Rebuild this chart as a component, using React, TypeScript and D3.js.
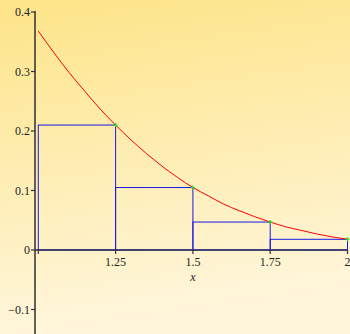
import React, { useEffect, useRef } from 'react';
import * as d3 from 'd3';

// curve (x, y)
const curveX = [1, 1.05, 1.1, 1.15, 1.2, 1.25, 1.3, 1.35, 1.4, 1.45, 1.5, 1.55, 1.6, 1.65, 1.7, 1.75, 1.8, 1.85, 1.9, 1.95, 2];
const curveY = [0.368, 0.332, 0.298, 0.267, 0.237, 0.21, 0.185, 0.162, 0.141, 0.122, 0.105, 0.091, 0.077, 0.066, 0.056, 0.047, 0.039, 0.033, 0.027, 0.022, 0.018];

// right endpoint rectangles
const rectLeft = [1, 1.25, 1.5, 1.75];
const rectRight = [1.25, 1.5, 1.75, 2];
const rectHeight = [0.21, 0.105, 0.047, 0.018];

const xTicks = [1, 1.25, 1.5, 1.75, 2];
const xTickLabels = ['', '1.25', '1.5', '1.75', '2'];
const yTicks = [-0.1, 0, 0.1, 0.2, 0.3, 0.4];
const yTickLabels = ['\u22120.1', '0', '0.1', '0.2', '0.3', '0.4'];

const W = 350, H = 334;
const FONT = "'Liberation Serif', 'Times New Roman', serif";

const App = () => {
  const ref = useRef<SVGSVGElement>(null);

  useEffect(() => {
    const svg = d3.select(ref.current);
    svg.selectAll('*').remove();

    const x = d3.scaleLinear().domain([1, 2]).range([38.3, 347.5]);
    const y = d3.scaleLinear().domain([0, 0.4]).range([250, 12]);
    const axisX = 35;

    const defs = svg.append('defs');
    const grad = defs.append('linearGradient').attr('id', 'bg')
      .attr('x1', 0).attr('y1', 0).attr('x2', 0.15).attr('y2', 1);
    grad.append('stop').attr('offset', '0%').attr('stop-color', '#fde488');
    grad.append('stop').attr('offset', '55%').attr('stop-color', '#feeeb6');
    grad.append('stop').attr('offset', '100%').attr('stop-color', '#fff6dc');

    svg.append('rect').attr('width', W).attr('height', H).attr('fill', 'url(#bg)');

    // rectangles
    rectLeft.forEach((l, i) => {
      svg.append('rect')
        .attr('x', x(l)).attr('y', y(rectHeight[i]))
        .attr('width', x(rectRight[i]) - x(l))
        .attr('height', y(0) - y(rectHeight[i]))
        .attr('fill', 'none')
        .attr('stroke', '#1a1ae6')
        .attr('stroke-width', 1);
    });

    // curve
    const line = d3.line<number>()
      .x((d, i) => x(curveX[i]))
      .y(d => y(d))
      .curve(d3.curveMonotoneX);
    svg.append('path').datum(curveY)
      .attr('d', line)
      .attr('fill', 'none')
      .attr('stroke', '#ff0000')
      .attr('stroke-width', 1);

    // sample points
    rectRight.forEach((r, i) => {
      const g = svg.append('g').attr('transform', `translate(${x(r)},${y(rectHeight[i])})`);
      g.append('path').attr('d', 'M-2,0H2M0,-2V2').attr('stroke', '#22dd22').attr('stroke-width', 1.2);
    });

    // x axis
    svg.append('line')
      .attr('x1', axisX).attr('x2', x(2)).attr('y1', y(0)).attr('y2', y(0))
      .attr('stroke', '#2a2a50').attr('stroke-width', 1.6);
    xTicks.forEach((t, i) => {
      svg.append('line')
        .attr('x1', x(t)).attr('x2', x(t)).attr('y1', y(0)).attr('y2', y(0) + 4)
        .attr('stroke', '#333').attr('stroke-width', 1.2);
      svg.append('text')
        .attr('x', x(t)).attr('y', y(0) + 16)
        .attr('text-anchor', 'middle')
        .attr('font-family', FONT)
        .attr('font-size', 12)
        .attr('fill', '#222')
        .text(xTickLabels[i]);
    });
    svg.append('text')
      .attr('x', x(1.5)).attr('y', y(0) + 31)
      .attr('text-anchor', 'middle')
      .attr('font-family', FONT)
      .attr('font-style', 'italic')
      .attr('font-size', 12)
      .attr('fill', '#222')
      .text('x');

    // y axis
    svg.append('line')
      .attr('x1', axisX).attr('x2', axisX).attr('y1', y(0.4) - 1).attr('y2', H)
      .attr('stroke', '#3a3a3a').attr('stroke-width', 1.6);
    yTicks.forEach((t, i) => {
      svg.append('line')
        .attr('x1', axisX - 4).attr('x2', axisX).attr('y1', y(t)).attr('y2', y(t))
        .attr('stroke', '#333').attr('stroke-width', 1.2);
      svg.append('text')
        .attr('x', axisX - 5).attr('y', y(t) + 4)
        .attr('text-anchor', 'end')
        .attr('font-family', FONT)
        .attr('font-size', 12)
        .attr('fill', '#222')
        .text(yTickLabels[i]);
    });
  }, []);

  return (
    <svg ref={ref} width={W} height={H}
      style={{ position: 'fixed', left: 0, top: 0, display: 'block' }} />
  );
};

export default App;
